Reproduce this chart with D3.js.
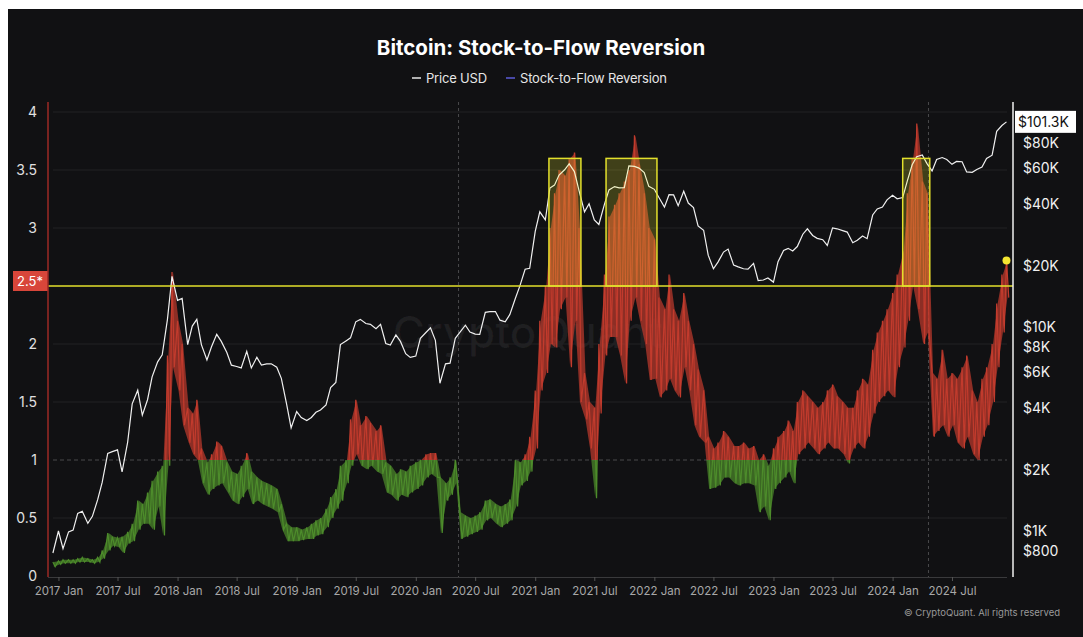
<!DOCTYPE html>
<html>
<head>
<meta charset="utf-8">
<script src="https://cdn.jsdelivr.net/npm/d3@7"></script>
<style>
  body { margin: 0; background: #fff; }
  svg { display: block; font-family: Inter, "Noto Sans", sans-serif; }
</style>
</head>
<body>
<div id="chart-container"></div>
<script>
// half-month samples, first one on 2016-12-15, then 1st / 15th of each month
const priceUsd = [
  780,
  1000, 820, 990, 1010, 1220, 1250, 1090, 1180, 1420, 1730, 2400, 2450, 2500, 1950, 2720, 4200, 4900, 3700, 4400, 5700, 6750, 7300, 10900, 17700,
  13500, 13800, 8200, 10100, 10900, 8200, 6900, 8000, 9200, 8500, 7500, 6500, 6400, 6300, 7600, 6300, 7100, 6500, 6600, 6600, 6350, 5600, 4200, 3200,
  3850, 3600, 3480, 3600, 3820, 3920, 4150, 5050, 5350, 8200, 8550, 8850, 10600, 10900, 10400, 10300, 9800, 10300, 8300, 8150, 9150, 8500, 7400, 7100,
  7200, 8800, 9400, 9900, 8600, 5300, 6600, 6650, 8800, 9400, 10200, 9450, 9230, 9200, 11800, 11900, 11900, 10800, 10600, 11500, 13800, 15900, 19200, 19400,
  29400, 36700, 33500, 48000, 49600, 55600, 59000, 63100, 57800, 46700, 36700, 40200, 33500, 31800, 39900, 47000, 48800, 48100, 48200, 61600, 61300, 60100, 57200, 48900,
  47300, 43100, 38700, 44500, 44400, 39300, 46300, 40500, 38500, 31300, 29800, 22500, 19300, 20800, 23300, 24100, 20100, 19700, 19300, 19200, 20500, 16900, 17000, 17400,
  16600, 20900, 23700, 24300, 23600, 24800, 28500, 30300, 28100, 27200, 26800, 25100, 30600, 30300, 29700, 29200, 25900, 26600, 27900, 27100, 35400, 37900, 38700, 42000,
  44200, 42500, 43100, 51900, 62400, 68400, 69700, 63400, 58200, 66200, 67700, 66200, 62700, 64800, 64600, 57600, 57300, 59200, 60800, 67000, 69500, 91000, 97200, 101300
];

// stock-to-flow reversion, high and low inside each half-month
const s2fHigh = [
  0.12,
  0.13, 0.14, 0.14, 0.14, 0.15, 0.16, 0.15, 0.14, 0.16, 0.22, 0.37, 0.34, 0.33, 0.34, 0.38, 0.45, 0.65, 0.62, 0.72, 0.82, 0.90, 0.95, 1.9, 2.62,
  2.2, 2.0, 1.45, 1.4, 1.52, 1.1, 0.98, 1.05, 1.16, 1.12, 0.98, 0.9, 0.88, 0.95, 1.06, 0.9, 0.85, 0.82, 0.80, 0.78, 0.75, 0.62, 0.45, 0.42,
  0.42, 0.40, 0.42, 0.45, 0.48, 0.50, 0.58, 0.68, 0.75, 0.95, 1.0, 1.35, 1.52, 1.3, 1.38, 1.32, 1.25, 1.30, 0.98, 0.95, 0.88, 0.92, 0.90, 0.95,
  0.98, 1.0, 1.05, 1.06, 1.06, 0.85, 0.80, 0.85, 1.0, 0.55, 0.52, 0.50, 0.52, 0.55, 0.65, 0.66, 0.62, 0.60, 0.62, 0.66, 1.0, 0.98, 1.05, 1.2,
  1.6, 2.2, 2.5, 3.0, 3.3, 3.5, 3.45, 3.6, 3.65, 3.0, 1.75, 1.5, 1.45, 2.0, 2.6, 3.1, 3.2, 3.3, 3.4, 3.5, 3.8, 3.55, 3.3, 3.0,
  2.9, 2.4, 2.3, 2.6, 2.3, 2.2, 2.44, 2.2, 2.0, 1.78, 1.6, 1.2, 1.1, 1.15, 1.25, 1.2, 1.12, 1.12, 1.15, 1.1, 1.12, 1.0, 1.05, 0.95,
  1.1, 1.2, 1.25, 1.34, 1.25, 1.5, 1.6, 1.55, 1.5, 1.45, 1.5, 1.6, 1.65, 1.55, 1.5, 1.45, 1.45, 1.6, 1.7, 1.65, 1.95, 2.1, 2.2, 2.3,
  2.44, 2.6, 2.8, 3.3, 3.6, 3.9, 3.4, 3.3, 1.75, 1.7, 1.95, 1.7, 1.75, 1.7, 1.8, 1.9, 1.6, 1.5, 1.7, 1.8, 2.0, 2.35, 2.6, 2.72
];
const s2fLow = [
  0.08,
  0.10, 0.11, 0.11, 0.11, 0.12, 0.12, 0.12, 0.11, 0.12, 0.15, 0.22, 0.26, 0.25, 0.20, 0.28, 0.30, 0.40, 0.45, 0.45, 0.40, 0.60, 0.35, 0.95, 1.8,
  1.6, 1.3, 1.15, 1.05, 1.0, 0.80, 0.70, 0.75, 0.78, 0.80, 0.72, 0.65, 0.62, 0.68, 0.75, 0.62, 0.65, 0.62, 0.60, 0.58, 0.55, 0.40, 0.30, 0.30,
  0.30, 0.31, 0.32, 0.32, 0.35, 0.36, 0.42, 0.50, 0.58, 0.65, 0.80, 0.95, 1.05, 0.95, 0.92, 0.95, 0.90, 0.88, 0.72, 0.70, 0.65, 0.70, 0.68, 0.72,
  0.75, 0.78, 0.85, 0.88, 0.85, 0.37, 0.65, 0.70, 0.80, 0.32, 0.34, 0.36, 0.38, 0.40, 0.48, 0.50, 0.45, 0.42, 0.45, 0.48, 0.60, 0.78, 0.82, 0.90,
  1.1, 1.6, 1.75, 2.0, 1.97, 2.3, 2.4, 1.8, 2.2, 1.5, 1.35, 1.1, 0.67, 1.4, 1.9, 2.06, 2.06, 1.9, 1.66, 2.2, 2.4, 2.2, 2.0, 1.69,
  1.7, 1.54, 1.6, 1.7, 1.6, 1.54, 1.8, 1.6, 1.3, 1.2, 1.15, 0.75, 0.76, 0.78, 0.85, 0.85, 0.8, 0.78, 0.8, 0.8, 0.78, 0.55, 0.6, 0.48,
  0.75, 0.8, 0.85, 0.9, 0.8, 1.05, 1.1, 1.15, 1.1, 1.05, 1.1, 1.15, 1.1, 1.1, 1.05, 0.97, 1.1, 1.15, 1.1, 1.2, 1.4, 1.5, 1.55, 1.6,
  1.54, 1.8, 1.97, 2.2, 2.5, 2.3, 2.0, 2.1, 1.2, 1.25, 1.3, 1.2, 1.3, 1.15, 1.1, 1.2, 1.05, 1.0, 1.2, 1.3, 1.5, 1.8, 2.1, 2.4
];

const leftTicks = [0, 0.5, 1, 1.5, 2, 2.5, 3, 3.5, 4];
const rightTicks = [800, 1000, 2000, 4000, 6000, 8000, 10000, 20000, 40000, 60000, 80000];
const xTickLabels = ["2017-01", "2017-07", "2018-01", "2018-07", "2019-01", "2019-07", "2020-01", "2020-07",
  "2021-01", "2021-07", "2022-01", "2022-07", "2023-01", "2023-07", "2024-01", "2024-07"];
const halvingDates = ["2020-05-11", "2024-04-20"];
const zoneStarts = ["2021-02-12", "2021-08-06", "2024-02-01"];
const zoneEnds = ["2021-05-21", "2022-01-09", "2024-04-24"];
const zoneTop = 3.6;
const threshold = 2.5;
const lastPriceLabel = "$101.3K";

const width = 1083, height = 637;
const marginLeft = 48, plotRight = 1013, plotTop = 102, plotBottom = 577;

const parse = d3.timeParse("%Y-%m-%d");
const parseMonth = d3.timeParse("%Y-%m");
// sample dates: 2016-12-15, 2017-01-01, 2017-01-15, ...
const dates = priceUsd.map((_, i) => new Date(2016, 11 + Math.floor((i + 1) / 2), i % 2 === 0 ? 15 : 1));

const x = d3.scaleTime()
  .domain([new Date(2016, 10, 30), new Date(2025, 0, 4)])
  .range([marginLeft, plotRight]);
const yL = d3.scaleLinear().domain([0, 4]).range([576, 112]);
const yR = d3.scaleLog().domain([1000, 100000]).range([531, 123]);

const svg = d3.select("#chart-container").append("svg")
  .attr("width", width).attr("height", height);

// dark panel, thin white frame on top/left like the screenshot
svg.append("rect").attr("x", 8).attr("y", 9).attr("width", width - 8).attr("height", height - 9).attr("fill", "#111113");

// title + legend
svg.append("text").attr("x", 541).attr("y", 55).attr("text-anchor", "middle")
  .attr("fill", "#fff").attr("font-size", 20.5).attr("font-weight", 700)
  .text("Bitcoin: Stock-to-Flow Reversion");
const legend = [{ name: "Price USD", color: "#e6e6e6", x: 412 }, { name: "Stock-to-Flow Reversion", color: "#5b5bd8", x: 506 }];
legend.forEach(l => {
  svg.append("line").attr("x1", l.x).attr("x2", l.x + 9).attr("y1", 78).attr("y2", 78)
    .attr("stroke", l.color).attr("stroke-width", 1.5);
  svg.append("text").attr("x", l.x + 14).attr("y", 82.5).attr("fill", "#e6e6e6")
    .attr("font-size", 13).attr("letter-spacing", -0.2).text(l.name);
});

// watermark
svg.append("text").attr("x", 528).attr("y", 348).attr("text-anchor", "middle")
  .attr("fill", "#fff").attr("fill-opacity", 0.06).attr("font-size", 44).attr("font-weight", 500)
  .text("CryptoQuant");

// horizontal grid from left ticks
svg.append("g").selectAll("line")
  .data(leftTicks.filter(d => d > 0 && d !== threshold))
  .join("line")
  .attr("x1", marginLeft + 5).attr("x2", 1007)
  .attr("y1", d => yL(d)).attr("y2", d => yL(d))
  .attr("stroke", d => d === 1 ? "#4a4a4c" : "#232325")
  .attr("stroke-dasharray", d => d === 1 ? "4,3" : null);

// halving markers
svg.append("g").selectAll("line")
  .data(halvingDates.map(parse))
  .join("line")
  .attr("x1", d => x(d)).attr("x2", d => x(d))
  .attr("y1", plotTop).attr("y2", plotBottom)
  .attr("stroke", "#4a4a4c").attr("stroke-dasharray", "3,3");

// S2F series: a band between highs and lows plus a zigzag through them,
// red above the 1.0 level, green below
const zig = [];
dates.forEach((d, i) => {
  zig.push([d, s2fHigh[i]]);
  zig.push([d3.timeDay.offset(d, 7), s2fLow[i]]);
});
const s2fLine = d3.line().x(d => x(d[0])).y(d => yL(d[1]));
const s2fBand = d3.area()
  .x((d, i) => x(d3.timeDay.offset(dates[i], 3)))
  .y0((d, i) => yL(s2fLow[i]))
  .y1((d, i) => yL(s2fHigh[i]));

const defs = svg.append("defs");
defs.append("clipPath").attr("id", "above").append("rect")
  .attr("x", marginLeft).attr("y", plotTop - 20).attr("width", plotRight - marginLeft).attr("height", yL(1) - plotTop + 20);
defs.append("clipPath").attr("id", "below").append("rect")
  .attr("x", marginLeft).attr("y", yL(1)).attr("width", plotRight - marginLeft).attr("height", plotBottom - yL(1));

[["above", "#c23b2d"], ["below", "#4d8c2b"]].forEach(([clip, color]) => {
  const g = svg.append("g").attr("clip-path", `url(#${clip})`);
  g.append("path").datum(s2fHigh)
    .attr("d", s2fBand).attr("fill", color).attr("fill-opacity", 0.7);
  g.append("path").datum(zig)
    .attr("d", s2fLine).attr("fill", "none").attr("stroke", color).attr("stroke-width", 1.2);
});

// price line on log scale
svg.append("path").datum(priceUsd)
  .attr("d", d3.line().x((d, i) => x(dates[i])).y(d => yR(d)))
  .attr("fill", "none").attr("stroke", "#f0f0f0").attr("stroke-width", 1.2);

// highlighted zones above the threshold
svg.append("g").selectAll("rect")
  .data(zoneStarts.map((s, i) => [parse(s), parse(zoneEnds[i])]))
  .join("rect")
  .attr("x", d => x(d[0])).attr("width", d => x(d[1]) - x(d[0]))
  .attr("y", yL(zoneTop)).attr("height", yL(threshold) - yL(zoneTop))
  .attr("fill", "#ffff33").attr("fill-opacity", 0.2)
  .attr("stroke", "#e3e02c").attr("stroke-width", 1.5);

// threshold line + its label
svg.append("line").attr("x1", marginLeft).attr("x2", plotRight)
  .attr("y1", yL(threshold)).attr("y2", yL(threshold))
  .attr("stroke", "#e3e02c").attr("stroke-width", 1.5);
svg.append("rect").attr("x", 13).attr("y", yL(threshold) - 15).attr("width", marginLeft - 13).attr("height", 20)
  .attr("fill", "#d8463a");
svg.append("text").attr("x", 30).attr("y", yL(threshold) - 0.5).attr("text-anchor", "middle")
  .attr("fill", "#fff").attr("font-size", 13).text(threshold + "*");

// last value marker
const last = dates.length - 1;
svg.append("circle").attr("cx", x(dates[last])).attr("cy", yL(s2fHigh[last])).attr("r", 4)
  .attr("fill", "#f4e631");

// left axis
const gL = svg.append("g").attr("transform", `translate(${marginLeft},0)`)
  .call(d3.axisLeft(yL).tickValues(leftTicks.filter(d => d !== threshold)).tickSize(0).tickPadding(11).tickFormat(d3.format("")));
gL.select(".domain").remove();
gL.selectAll("text").attr("fill", "#e0e0e0").attr("font-size", 14).attr("font-family", "Inter, sans-serif");
svg.append("line").attr("x1", marginLeft).attr("x2", marginLeft).attr("y1", plotTop).attr("y2", plotBottom)
  .attr("stroke", "#9c2a26").attr("stroke-width", 1.5);

// right log axis
const gR = svg.append("g").attr("transform", `translate(${plotRight},0)`)
  .call(d3.axisRight(yR).tickValues(rightTicks).tickSize(0).tickPadding(10)
    .tickFormat(d => d >= 1000 ? "$" + d / 1000 + "K" : "$" + d));
gR.select(".domain").remove();
gR.selectAll("text").attr("fill", "#f0f0f0").attr("font-size", 14).attr("font-family", "Inter, sans-serif");
svg.append("line").attr("x1", plotRight).attr("x2", plotRight).attr("y1", plotTop).attr("y2", plotBottom)
  .attr("stroke", "#f0f0f0").attr("stroke-width", 1.5);

// last price badge
const yLast = yR(priceUsd[last]);
svg.append("rect").attr("x", plotRight + 2).attr("y", yLast - 11).attr("width", 61).attr("height", 22)
  .attr("fill", "#fff");
svg.append("text").attr("x", plotRight + 5).attr("y", yLast + 5).attr("fill", "#111")
  .attr("font-size", 14).text(lastPriceLabel);

// bottom axis
const gB = svg.append("g").attr("transform", `translate(0,${plotBottom})`)
  .call(d3.axisBottom(x).tickValues(xTickLabels.map(parseMonth)).tickSize(4).tickPadding(6)
    .tickFormat(d3.timeFormat("%Y %b")));
gB.select(".domain").attr("d", `M${marginLeft},0.5H1007`).attr("stroke", "#3a3a3c");
gB.selectAll(".tick line").attr("stroke", "#555");
gB.selectAll("text").attr("fill", "#a8a8a8").attr("font-size", 11.5).attr("font-family", "Inter, sans-serif");

// copyright
svg.append("text").attr("x", 1060).attr("y", 616).attr("text-anchor", "end")
  .attr("fill", "#9a9a9a").attr("font-size", 9.5).text("© CryptoQuant. All rights reserved");
</script>
</body>
</html>
